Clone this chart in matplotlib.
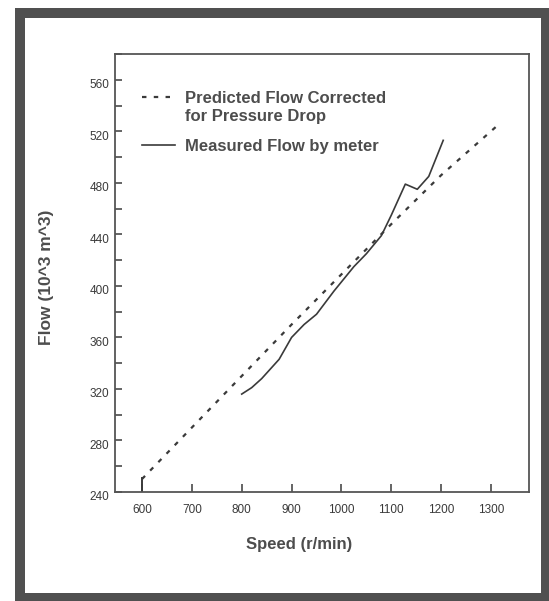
import matplotlib
matplotlib.use("Agg")
import matplotlib.pyplot as plt
import matplotlib.transforms as mtransforms
from matplotlib.patches import Rectangle
from matplotlib.ticker import MultipleLocator

plt.rcParams['font.family'] = ['Liberation Sans', 'DejaVu Sans']

# predicted flow (corrected for pressure drop)
pred_speed = [600, 700, 800, 900, 1000, 1100, 1200, 1320]
pred_flow = [250, 290, 330, 370, 409, 448, 486, 527]

# measured flow by meter
meas_speed = [800, 820, 840, 875, 900, 925, 950, 985, 1025, 1050, 1080, 1100, 1128, 1152, 1175, 1204]
meas_flow = [316, 321, 328, 343, 360, 370, 378, 396, 415, 425, 439, 455, 479, 475, 485, 513]

# little solid stub at the start of the predicted line
stub_speed = [600, 600]
stub_flow = [240, 251]

xticks = [600, 700, 800, 900, 1000, 1100, 1200, 1300]
yticks = [240, 280, 320, 360, 400, 440, 480, 520, 560]

ink = '#3a3a3a'
txt = '#4d4d4d'

fig = plt.figure(figsize=(5.49, 6.01), dpi=100)
ax = fig.add_axes([0.2095, 0.1814, 0.7541, 0.7287])

ax.plot(pred_speed, pred_flow, color=ink, lw=1.6, dashes=(2, 3.3),
        label='Predicted Flow Corrected\nfor Pressure Drop')
ax.plot(meas_speed, meas_flow, color=ink, lw=1.2, label='Measured Flow by meter')
ax.plot(stub_speed, stub_flow, color=ink, lw=1.4)

ax.set_xlim(546, 1376)
ax.set_ylim(240, 580)
ax.set_xticks(xticks)
ax.set_yticks(yticks)
ax.yaxis.set_minor_locator(MultipleLocator(20))

for s in ax.spines.values():
    s.set_color('#555555')
    s.set_linewidth(1.3)

ax.tick_params(which='both', direction='in', top=False, right=False, colors=ink,
               labelsize=8.5, width=1.1)
ax.tick_params(axis='y', which='major', length=5, pad=4)
ax.tick_params(axis='y', which='minor', length=5)
ax.tick_params(axis='x', length=6, pad=9)

# y tick labels sit a bit under their ticks in the scan
off = mtransforms.ScaledTranslation(0, -4 / 100, fig.dpi_scale_trans)
for lab in ax.get_yticklabels():
    lab.set_transform(lab.get_transform() + off)

ax.set_xlabel('Speed (r/min)', fontsize=12, fontweight='bold', color=txt)
ax.set_ylabel('Flow (10^3 m^3)', fontsize=12.5, fontweight='bold', color=txt)
ax.xaxis.set_label_coords(0.444, -0.102)
ax.yaxis.set_label_coords(-0.147, 0.49)

leg = ax.legend(loc='upper left', bbox_to_anchor=(0.045, 0.935), frameon=False,
                prop={'size': 12, 'weight': 'bold'}, handlelength=2.0,
                handletextpad=0.6, labelspacing=0.9, borderpad=0, labelcolor=txt)
for t in leg.get_texts():
    t.set_linespacing(1.3)
# put the handle next to the first line of a two-line label
for col in leg._legend_handle_box.get_children():
    for row in col.get_children():
        row.align = 'top'

# dark scanned frame around the whole picture
fig.patches.append(Rectangle((0.0373, 0.005), 0.957, 0.973, transform=fig.transFigure,
                             fill=False, edgecolor='#505050', linewidth=7.2))

fig.savefig('out.png', dpi=100)
